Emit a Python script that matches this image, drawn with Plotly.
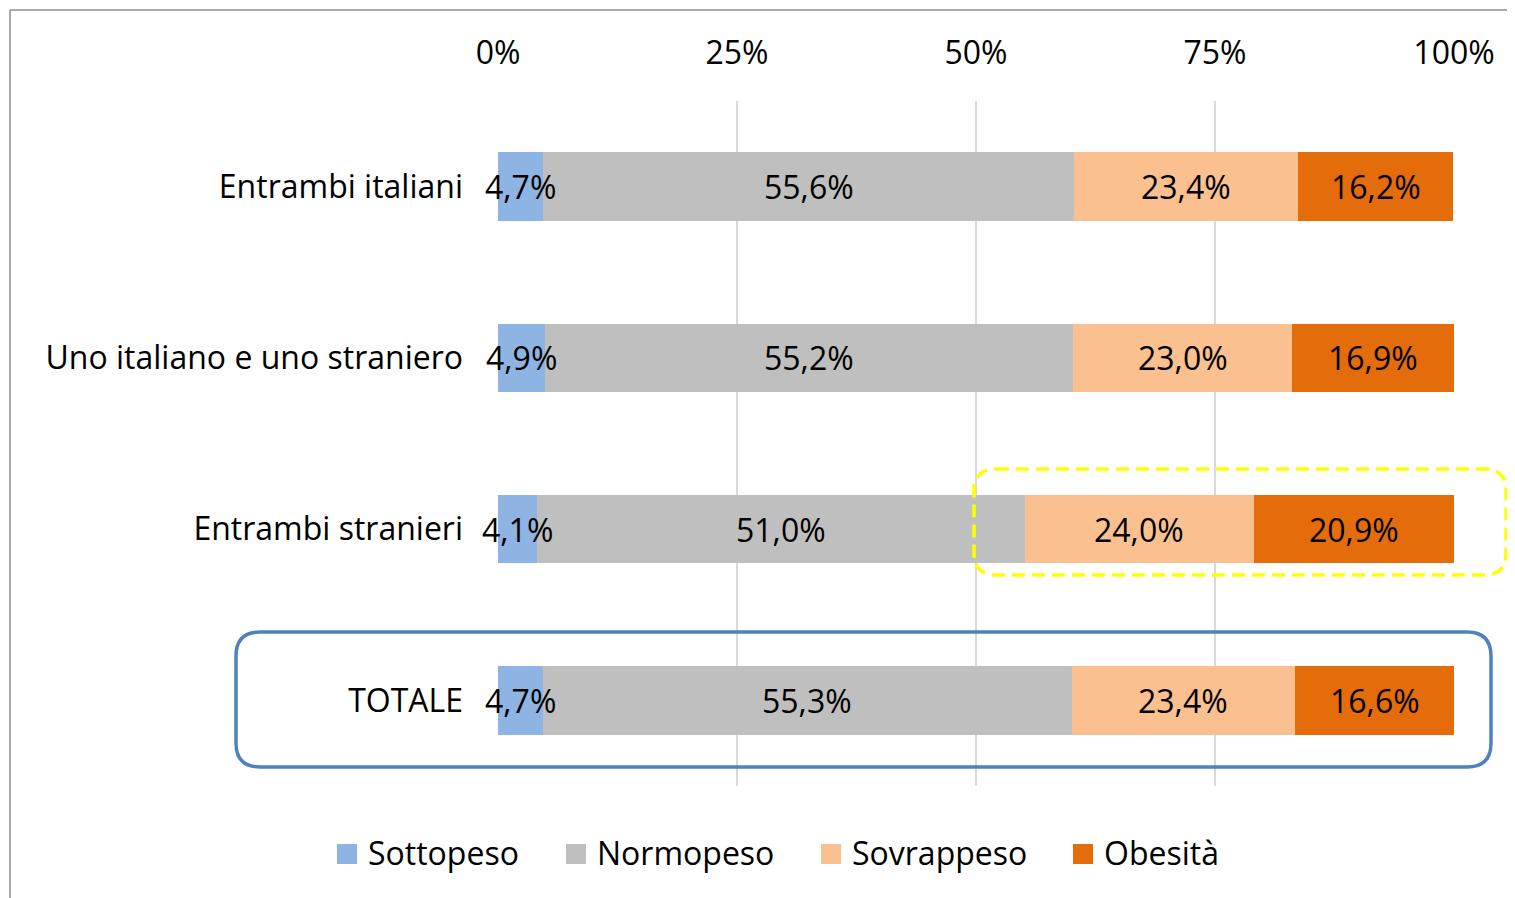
import plotly.graph_objects as go

categories = ["Entrambi italiani", "Uno italiano e uno straniero", "Entrambi stranieri", "TOTALE"]
series_names = ["Sottopeso", "Normopeso", "Sovrappeso", "Obesità"]
sottopeso = [4.7, 4.9, 4.1, 4.7]
normopeso = [55.6, 55.2, 51.0, 55.3]
sovrappeso = [23.4, 23.0, 24.0, 23.4]
obesita = [16.2, 16.9, 20.9, 16.6]
colors = ["#8EB4E3", "#BFBFBF", "#FAC090", "#E46C0A"]
tick_vals = [0, 25, 50, 75, 100]
tick_text = ["0%", "25%", "50%", "75%", "100%"]

FONT = "Open Sans"
FS = 32
OFF = 8  # page body margin
W, H = 1515 - OFF, 898 - OFF
L, R, T, B = 498 - OFF, 61, 101 - OFF, 112
pw, ph = W - L - R, H - T - B

series_vals = [sottopeso, normopeso, sovrappeso, obesita]

fig = go.Figure()
for name, vals, col in zip(series_names, series_vals, colors):
    fig.add_trace(go.Bar(
        y=categories, x=vals, name=name, orientation="h",
        marker=dict(color=col, line=dict(width=0)),
        hoverinfo="skip", showlegend=False,
    ))

# data labels drawn on top of all bars
annotations = []
base = [0.0] * len(categories)
for vals in series_vals:
    for cat, b, v in zip(categories, base, vals):
        annotations.append(dict(
            x=b + v / 2, y=cat, xref="x", yref="y",
            text=f"{v:.1f}%".replace(".", ","), showarrow=False,
            xanchor="center", yanchor="middle", yshift=0,
            font=dict(family=FONT, size=FS, color="#000000"),
        ))
    base = [b + v for b, v in zip(base, vals)]


def px2paper(x, y):
    # x, y in reference screenshot pixels
    return (x - OFF - L) / pw, (H - B - (y - OFF)) / ph


def rounded_path(x0, y0, x1, y1, r):
    def P(x, y):
        a, b = px2paper(x, y)
        return f"{a:.5f},{b:.5f}"
    s = f"M {P(x0 + r, y0)} L {P(x1 - r, y0)} Q {P(x1, y0)} {P(x1, y0 + r)} "
    s += f"L {P(x1, y1 - r)} Q {P(x1, y1)} {P(x1 - r, y1)} "
    s += f"L {P(x0 + r, y1)} Q {P(x0, y1)} {P(x0, y1 - r)} "
    s += f"L {P(x0, y0 + r)} Q {P(x0, y0)} {P(x0 + r, y0)} Z"
    return s


shapes = [
    dict(type="path", xref="paper", yref="paper", path=rounded_path(974, 469, 1506, 575, 22),
         line=dict(color="#FFFF00", width=3.5, dash="13px,7px")),
    dict(type="path", xref="paper", yref="paper", path=rounded_path(236, 632, 1491, 767, 24),
         line=dict(color="#4F81BD", width=3.5)),
]
bx0, by0 = px2paper(10, 10)
bx1, by1 = px2paper(1515, 898)
shapes.append(dict(type="line", xref="paper", yref="paper", x0=bx0, y0=by0, x1=bx1, y1=by0,
                   line=dict(color="#8C8C8C", width=1.5)))
shapes.append(dict(type="line", xref="paper", yref="paper", x0=bx0, y0=by0, x1=bx0, y1=by1,
                   line=dict(color="#8C8C8C", width=1.5)))

# legend (square swatch + label)
legend_x = [337, 566, 821, 1073]
for name, col, lxp in zip(series_names, colors, legend_x):
    x0, y0 = px2paper(lxp, 864)
    x1, y1 = px2paper(lxp + 20, 844)
    shapes.append(dict(type="rect", xref="paper", yref="paper", x0=x0, y0=y0, x1=x1, y1=y1,
                       fillcolor=col, line=dict(width=0)))
    tx, ty = px2paper(lxp + 29, 854)
    annotations.append(dict(x=tx, y=ty, xref="paper", yref="paper", text=name,
                            showarrow=False, xanchor="left", yanchor="middle", yshift=2,
                            font=dict(family=FONT, size=FS, color="#000000")))

fig.update_layout(
    barmode="stack",
    bargap=0.6,
    width=W, height=H,
    margin=dict(l=L, r=R, t=T, b=B, autoexpand=False),
    paper_bgcolor="white", plot_bgcolor="white",
    font=dict(family=FONT, size=FS, color="#000000"),
    showlegend=False,
    xaxis=dict(range=[0, 100], side="top", tickvals=tick_vals, ticktext=tick_text,
               showgrid=True, gridcolor="#D9D9D9", gridwidth=2, zeroline=False,
               showline=False, ticks="", ticklabelstandoff=30,
               tickfont=dict(family=FONT, size=FS)),
    yaxis=dict(categoryorder="array", categoryarray=categories, autorange="reversed",
               showgrid=False, zeroline=False, showline=False, ticks="",
               ticklabelstandoff=34, tickfont=dict(family=FONT, size=FS)),
    shapes=shapes,
    annotations=annotations,
)
fig.write_html("out.html")
